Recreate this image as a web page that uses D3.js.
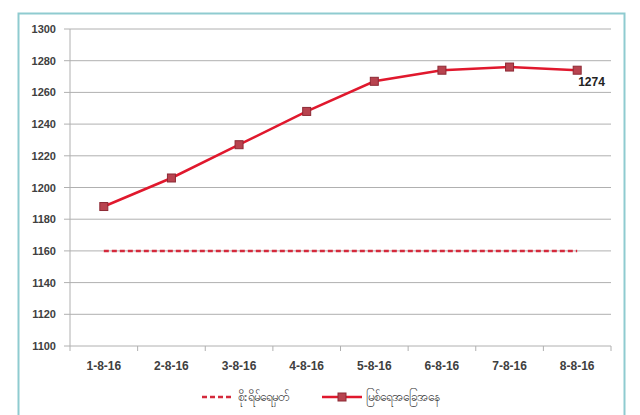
<!DOCTYPE html>
<html><head><meta charset="utf-8">
<script src="https://cdn.jsdelivr.net/npm/d3@7"></script>
<style>
body{margin:0;background:#fff;}
text{font-family:"Liberation Sans",Arial,sans-serif;}
</style></head>
<body><svg id="c" width="640" height="415"></svg>
<script>
const categories = ["1-8-16","2-8-16","3-8-16","4-8-16","5-8-16","6-8-16","7-8-16","8-8-16"];
const riverLevel = [1188,1206,1227,1248,1267,1274,1276,1274];
const dangerLevel = [1160,1160,1160,1160,1160,1160,1160,1160];
const yTicks = [1100,1120,1140,1160,1180,1200,1220,1240,1260,1280,1300];
const seriesNames = ["စိုးရိမ်ရေမှတ်","မြစ်ရေအခြေအနေ"];

const svg = d3.select("#c");
svg.append("rect").attr("x",18.5).attr("y",13.5).attr("width",606).attr("height",420)
  .attr("fill","#fff").attr("stroke","#8fcbd0").attr("stroke-width",2);

const x = d3.scaleBand().domain(categories).range([70,611]);
const y = d3.scaleLinear().domain([1100,1300]).range([346,29]);

svg.append("g").selectAll("line").data(yTicks).join("line")
  .attr("x1",64).attr("x2",611).attr("y1",d=>y(d)).attr("y2",d=>y(d))
  .attr("stroke","#b0b0b0").attr("stroke-width",1);

svg.append("line").attr("x1",70).attr("x2",70).attr("y1",y(1300)).attr("y2",y(1100))
  .attr("stroke","#b0b0b0");
svg.append("g").selectAll("line").data(d3.range(categories.length+1)).join("line")
  .attr("x1",i=>70+i*x.bandwidth()).attr("x2",i=>70+i*x.bandwidth())
  .attr("y1",346).attr("y2",351).attr("stroke","#b0b0b0");

svg.append("g").selectAll("text").data(yTicks).join("text")
  .attr("x",56).attr("y",d=>y(d)+4).attr("text-anchor","end")
  .attr("font-size",11).attr("font-weight","bold").attr("fill","#404040").text(d=>d);
svg.append("g").selectAll("text").data(categories).join("text")
  .attr("x",d=>x(d)+x.bandwidth()/2).attr("y",370).attr("text-anchor","middle")
  .attr("font-size",12).attr("font-weight","bold").attr("fill","#404040").text(d=>d);

const cx = (d,i)=>x(categories[i])+x.bandwidth()/2;
const line = d3.line().x((d,i)=>cx(d,i)).y(d=>y(d));

svg.append("path").datum(dangerLevel).attr("d",line).attr("fill","none")
  .attr("stroke","#d42a3c").attr("stroke-width",2.5).attr("stroke-dasharray","5,3");

svg.append("path").datum(riverLevel).attr("d",line).attr("fill","none")
  .attr("stroke","#e0182d").attr("stroke-width",2.5);
svg.append("g").selectAll("rect").data(riverLevel).join("rect")
  .attr("x",(d,i)=>cx(d,i)-4).attr("y",d=>y(d)-4).attr("width",8).attr("height",8)
  .attr("fill","#b8434f").attr("stroke","#8c2a35").attr("stroke-width",1);

const last = riverLevel.length-1;
svg.append("text").attr("x",cx(0,last)+1).attr("y",y(riverLevel[last])+16)
  .attr("font-size",12).attr("font-weight","bold").attr("fill","#222").text(riverLevel[last]);

const lg = svg.append("g");
lg.append("line").attr("x1",202).attr("x2",233).attr("y1",397).attr("y2",397)
  .attr("stroke","#d42a3c").attr("stroke-width",2.5).attr("stroke-dasharray","5,3");
lg.append("text").attr("x",238).attr("y",401).attr("font-size",12)
  .attr("font-family","'Noto Sans Myanmar','Padauk','Myanmar Text',sans-serif").attr("fill","#333").text(seriesNames[0]);
lg.append("line").attr("x1",322).attr("x2",362).attr("y1",397).attr("y2",397)
  .attr("stroke","#e0182d").attr("stroke-width",2.5);
lg.append("rect").attr("x",338).attr("y",393).attr("width",8).attr("height",8)
  .attr("fill","#b8434f").attr("stroke","#8c2a35");
lg.append("text").attr("x",366).attr("y",401).attr("font-size",12)
  .attr("font-family","'Noto Sans Myanmar','Padauk','Myanmar Text',sans-serif").attr("fill","#333").text(seriesNames[1]);
</script></body></html>
